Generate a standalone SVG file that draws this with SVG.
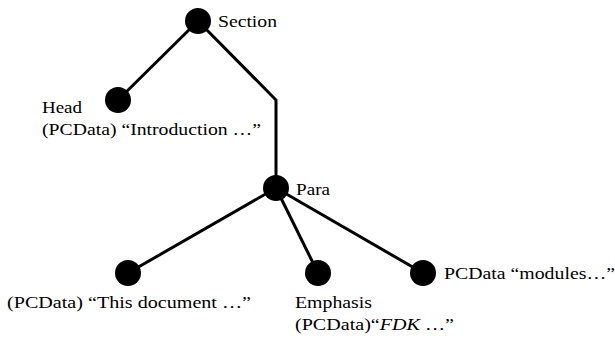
<svg xmlns="http://www.w3.org/2000/svg" width="615" height="338" viewBox="0 0 615 338">
<style>
.e{stroke:#000;stroke-width:3;fill:none;stroke-linejoin:miter}
.n{fill:#000}
.t{font-family:"Times New Roman",Times,"Liberation Serif","DejaVu Serif","Noto Serif",serif;font-size:17px;fill:#000}
</style>
<rect width="615" height="338" fill="#fff"/>
<g id="connectors">
<line class="e" x1="198" y1="21" x2="118" y2="100"/>
<polyline class="e" points="198,21 276,100 276,188"/>
<line class="e" x1="276" y1="188" x2="128" y2="273"/>
<line class="e" x1="276" y1="188" x2="318" y2="273"/>
<line class="e" x1="276" y1="188" x2="423" y2="273"/>
</g>
<g id="section"><circle class="n" cx="198" cy="21" r="13"/><text class="t" x="218" y="27" textLength="59" lengthAdjust="spacingAndGlyphs">Section</text></g>
<g id="head"><circle class="n" cx="118" cy="100" r="13"/><text class="t" x="42" y="113" textLength="40" lengthAdjust="spacingAndGlyphs">Head</text><text class="t" x="42" y="135" textLength="219" lengthAdjust="spacingAndGlyphs">(PCData) “Introduction …”</text></g>
<g id="para"><circle class="n" cx="276" cy="188" r="13"/><text class="t" x="296" y="195" textLength="34" lengthAdjust="spacingAndGlyphs">Para</text></g>
<g id="doc"><circle class="n" cx="128" cy="273" r="13"/><text class="t" x="7" y="308" textLength="244" lengthAdjust="spacingAndGlyphs">(PCData) “This document …”</text></g>
<g id="emphasis"><circle class="n" cx="318" cy="273" r="13"/><text class="t" x="295" y="308" textLength="77" lengthAdjust="spacingAndGlyphs">Emphasis</text><text class="t" x="295" y="330" textLength="159" lengthAdjust="spacingAndGlyphs">(PCData)“<tspan font-style="italic">FDK</tspan> …”</text></g>
<g id="modules"><circle class="n" cx="423" cy="273" r="13"/><text class="t" x="444" y="279" textLength="171" lengthAdjust="spacingAndGlyphs">PCData “modules…”</text></g>
</svg>
